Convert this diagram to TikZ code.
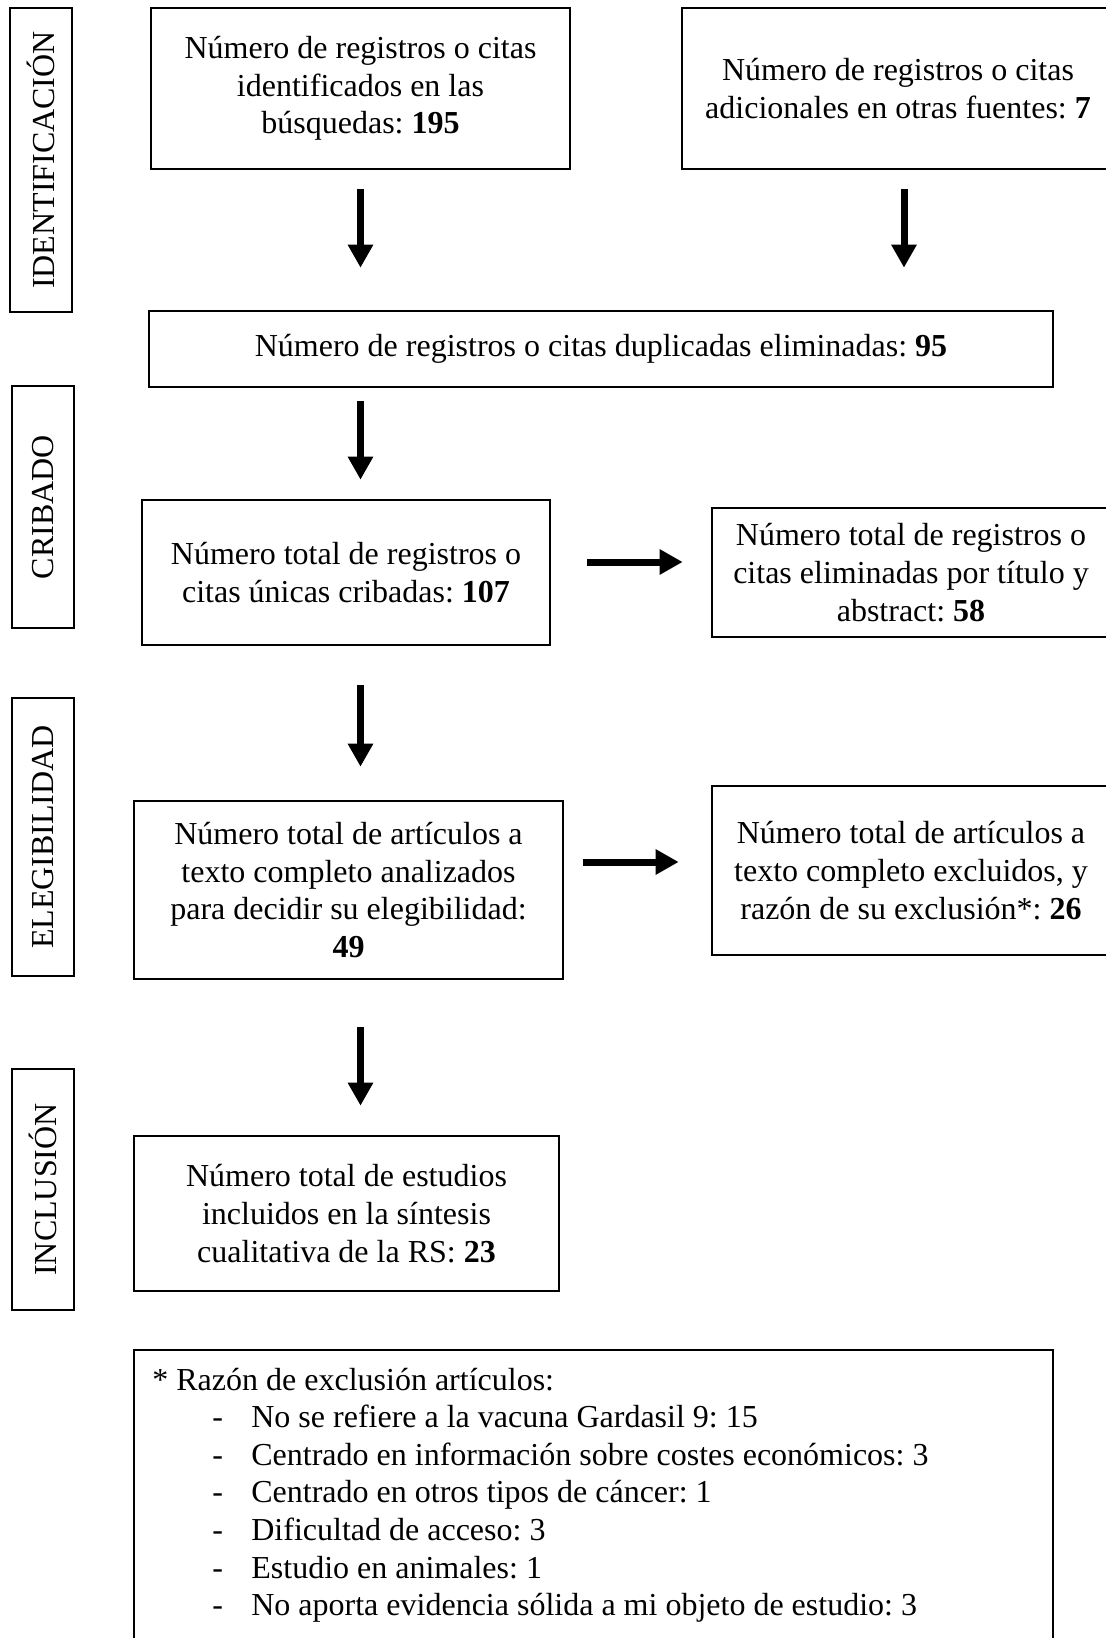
\documentclass[tikz,border=0pt]{standalone}
\usepackage{fontspec}
\setmainfont{Liberation Serif}
\frenchspacing
\usetikzlibrary{arrows.meta,calc}
\begin{document}
\begin{tikzpicture}[x=0.5pt,y=-0.5pt,
  every node/.style={font=\fontsize{16}{18.8}\selectfont},
  box/.style={draw, line width=1.3pt, inner sep=0pt, align=center},
  lab/.style={draw, line width=1.3pt, inner sep=0pt, rotate=90, minimum height=31pt},
  arr/.style={line width=3.5pt, -{Triangle[width=12pt,length=11.5pt]}},
  fnline/.style={anchor=base west, inner sep=0pt}
]
\useasboundingbox (0,0) rectangle (1106,1638);
\clip (0,0) rectangle (1106,1638);
% stage labels
\node[lab, minimum width=152pt] (l1) at (41,160) {IDENTIFICACIÓN};
\node[lab, minimum width=121pt] (l2) at (43,507) {CRIBADO};
\node[lab, minimum width=139pt] (l3) at (43,837) {ELEGIBILIDAD};
\node[lab, minimum width=120.5pt] (l4) at (43,1189.5) {INCLUSIÓN};
% boxes
\node[box, minimum width=209.5pt, minimum height=80.5pt] (b1) at (360.5,88.5)
  {Número de registros o citas\\identificados en las\\búsquedas: \textbf{195}};
\node[box, minimum width=216pt, minimum height=80.5pt] (b2) at (898,88.5)
  {Número de registros o citas\\adicionales en otras fuentes: \textbf{7}};
\node[box, minimum width=452pt, minimum height=38pt] (dup) at (601,349)
  {Número de registros o citas duplicadas eliminadas: \textbf{95}};
\node[box, minimum width=204pt, minimum height=72.5pt] (b107) at (346,572.5)
  {Número total de registros o\\citas únicas cribadas: \textbf{107}};
\node[box, minimum width=199pt, minimum height=64.5pt] (b58) at (911,572.5)
  {Número total de registros o\\citas eliminadas por título y\\abstract: \textbf{58}};
\node[box, minimum width=214.5pt, minimum height=89pt] (b49) at (348.5,890)
  {Número total de artículos a\\texto completo analizados\\para decidir su elegibilidad:\\\textbf{49}};
\node[box, minimum width=199pt, minimum height=84.5pt] (b26) at (911,870.5)
  {Número total de artículos a\\texto completo excluidos, y\\razón de su exclusión*: \textbf{26}};
\node[box, minimum width=212.5pt, minimum height=77.5pt] (b23) at (346.5,1213.5)
  {Número total de estudios\\incluidos en la síntesis\\cualitativa de la RS: \textbf{23}};
% arrows
\draw[arr, shorten <=9.5pt, shorten >=21pt] (b1.south) -- (b1.south |- dup.north);
\draw[arr, shorten <=9.5pt, shorten >=21pt] ([xshift=3pt]b2.south) -- ([xshift=3pt]b2.south |- dup.north);
\draw[arr, shorten <=6.5pt, shorten >=9.5pt] (dup.south -| b1.south) -- (b107.north -| b1.south);
\draw[arr, shorten <=19.5pt, shorten >=16.5pt] (b107.south -| b1.south) -- (b49.north -| b1.south);
\draw[arr, shorten <=23.5pt, shorten >=14.5pt] (b49.south -| b1.south) -- (b23.north -| b1.south);
\draw[arr, shorten <=18pt, shorten >=14pt] ([yshift=5.25pt]b107.east) -- ([yshift=5.25pt]b107.east -| b58.west);
\draw[arr, shorten <=9.5pt, shorten >=16pt] ([yshift=14pt]b49.east) -- ([yshift=14pt]b49.east -| b26.west);
% footnote
\node[draw, line width=0.6pt, minimum width=459.5pt, minimum height=175pt, inner sep=0pt] (fnbox) at (593.5,1525) {};
\node[fnline] (f0) at (152,1390) {* Razón de exclusión artículos:};
\node[fnline] (f1) at (152,1427.6) {\hspace*{30pt}\makebox[19.5pt][l]{-}No se refiere a la vacuna Gardasil 9: 15};
\node[fnline] (f2) at (152,1465.2) {\hspace*{30pt}\makebox[19.5pt][l]{-}Centrado en información sobre costes económicos: 3};
\node[fnline] (f3) at (152,1502.8) {\hspace*{30pt}\makebox[19.5pt][l]{-}Centrado en otros tipos de cáncer: 1};
\node[fnline] (f4) at (152,1540.4) {\hspace*{30pt}\makebox[19.5pt][l]{-}Dificultad de acceso: 3};
\node[fnline] (f5) at (152,1578) {\hspace*{30pt}\makebox[19.5pt][l]{-}Estudio en animales: 1};
\node[fnline] (f6) at (152,1615.6) {\hspace*{30pt}\makebox[19.5pt][l]{-}No aporta evidencia sólida a mi objeto de estudio: 3};
\end{tikzpicture}
\end{document}
